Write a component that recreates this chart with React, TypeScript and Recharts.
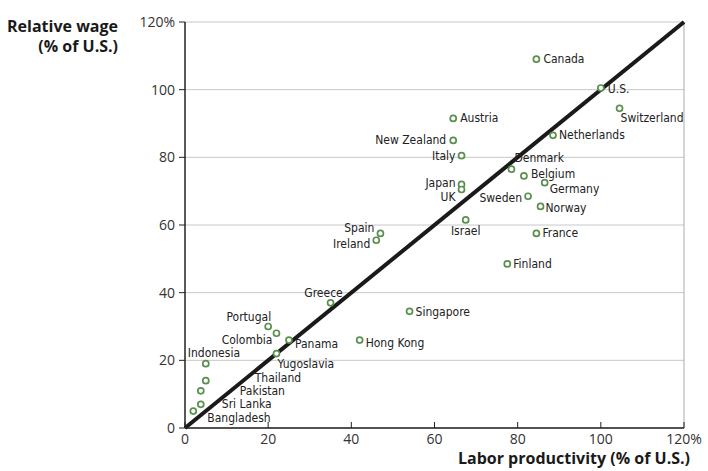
import React from 'react';
import { ScatterChart, Scatter, XAxis, YAxis, CartesianGrid, ReferenceLine } from 'recharts';

// values (de-rotated)
const countries = [
    'Canada', 'U.S.', 'Switzerland', 'Austria', 'Netherlands', 'New Zealand', 'Italy',
    'Denmark', 'Belgium', 'Germany', 'Japan', 'UK', 'Sweden', 'Norway', 'Israel', 'France',
    'Spain', 'Ireland', 'Finland', 'Greece', 'Singapore', 'Hong Kong', 'Portugal', 'Colombia',
    'Panama', 'Yugoslavia', 'Indonesia', 'Thailand', 'Pakistan', 'Sri Lanka', 'Bangladesh',
];
const productivity = [
    84.5, 100, 104.5, 64.5, 88.5, 64.5, 66.5,
    78.5, 81.5, 86.5, 66.5, 66.5, 82.5, 85.5, 67.5, 84.5,
    47, 46, 77.5, 35, 54, 42, 20, 22,
    25, 22, 5, 5, 3.8, 3.8, 2,
];
const wage = [
    109, 100.5, 94.5, 91.5, 86.5, 85, 80.5,
    76.5, 74.5, 72.5, 72, 70.5, 68.5, 65.5, 61.5, 57.5,
    57.5, 55.5, 48.5, 37, 34.5, 26, 30, 28,
    26, 22, 19, 14, 11, 7, 5,
];
const ticks = [0, 20, 40, 60, 80, 100, 120];

// label placement: [anchor, dx, dy] in px from the marker
const placement: Record<string, [string, number, number]> = {
    'Canada': ['start', 7, 0],
    'U.S.': ['start', 7, 1],
    'Switzerland': ['start', 1, 10],
    'Austria': ['start', 7, 0],
    'Netherlands': ['start', 6, 0],
    'New Zealand': ['end', -7, 0],
    'Italy': ['end', -6, 0],
    'Denmark': ['start', 3, -11],
    'Belgium': ['start', 7, -2],
    'Germany': ['start', 5, 6],
    'Japan': ['end', -6, -1],
    'UK': ['end', -6, 8],
    'Sweden': ['end', -6, 2],
    'Norway': ['start', 5, 2],
    'Israel': ['middle', 0, 11],
    'France': ['start', 6, 0],
    'Spain': ['end', -6, -5],
    'Ireland': ['end', -6, 4],
    'Finland': ['start', 6, 0],
    'Greece': ['middle', -7, -10],
    'Singapore': ['start', 6, 1],
    'Hong Kong': ['start', 6, 3],
    'Portugal': ['end', 3, -10],
    'Colombia': ['end', -4, 7],
    'Panama': ['start', 6, 4],
    'Yugoslavia': ['start', 1, 10],
    'Indonesia': ['start', -18, -11],
    'Thailand': ['start', 49, -3],
    'Pakistan': ['start', 39, 0],
    'Sri Lanka': ['start', 21, 0],
    'Bangladesh': ['start', 14, 7],
};

const points = countries.map((name, i) => ({ name, x: productivity[i], y: wage[i] }));

const fmt = (v: number) => (v === 120 ? '120%' : String(v));

const Marker = (props: any) => {
    const { cx, cy, payload } = props;
    const [anchor, dx, dy] = placement[payload.name] || ['start', 6, 0];
    return (
        <g>
            <circle cx={cx} cy={cy} r={3} fill="#fff" stroke="#5a8f4e" strokeWidth={1.7} />
            <text
                x={cx + dx}
                y={cy + dy}
                textAnchor={anchor as any}
                dominantBaseline="central"
                fontFamily="'DejaVu Sans Condensed', 'DejaVu Sans', sans-serif"
                fontStretch="condensed"
                fontSize={12}
                fill="#222"
            >
                {payload.name}
            </text>
        </g>
    );
};

const tickStyle = { fill: '#333', fontSize: 14, fontFamily: "'Open Sans', sans-serif" };
const titleStyle: React.CSSProperties = {
    position: 'absolute',
    fontFamily: "'Open Sans', sans-serif",
    fontWeight: 700,
    fontSize: 16,
    color: '#1a1a1a',
    lineHeight: '20px',
    whiteSpace: 'nowrap',
};

export default function App() {
    return (
        <div style={{ position: 'absolute', top: 0, left: 0, width: 708, height: 471, background: '#fff' }}>
            <ScatterChart width={708} height={471} margin={{ top: 22, right: 24, left: 140, bottom: 13 }}>
                <CartesianGrid vertical={false} stroke="#c8c8c8" />
                <XAxis
                    type="number"
                    dataKey="x"
                    domain={[0, 120]}
                    ticks={ticks}
                    tickFormatter={fmt}
                    axisLine={{ stroke: '#222', strokeWidth: 1.5 }}
                    tickLine={{ stroke: '#222' }}
                    tickSize={-6}
                    tickMargin={12}
                    tick={tickStyle}
                    height={30}
                />
                <YAxis
                    type="number"
                    dataKey="y"
                    domain={[0, 120]}
                    ticks={ticks}
                    tickFormatter={fmt}
                    axisLine={{ stroke: '#222', strokeWidth: 1.5 }}
                    tickLine={{ stroke: '#222' }}
                    tickSize={6}
                    tickMargin={4}
                    tick={tickStyle}
                    width={45}
                />
                <ReferenceLine x={120} stroke="#aaa" />
                <ReferenceLine
                    segment={[{ x: 0, y: 0 }, { x: 120, y: 120 }]}
                    stroke="#1a1a1a"
                    strokeWidth={4}
                    ifOverflow="visible"
                />
                <Scatter data={points} shape={<Marker />} isAnimationActive={false} />
            </ScatterChart>
            <div style={{ ...titleStyle, right: 708 - 118, top: 16, textAlign: 'right' }}>
                Relative wage<br />(% of U.S.)
            </div>
            <div style={{ ...titleStyle, right: 708 - 690, top: 448 }}>
                Labor productivity (% of U.S.)
            </div>
        </div>
    );
}
